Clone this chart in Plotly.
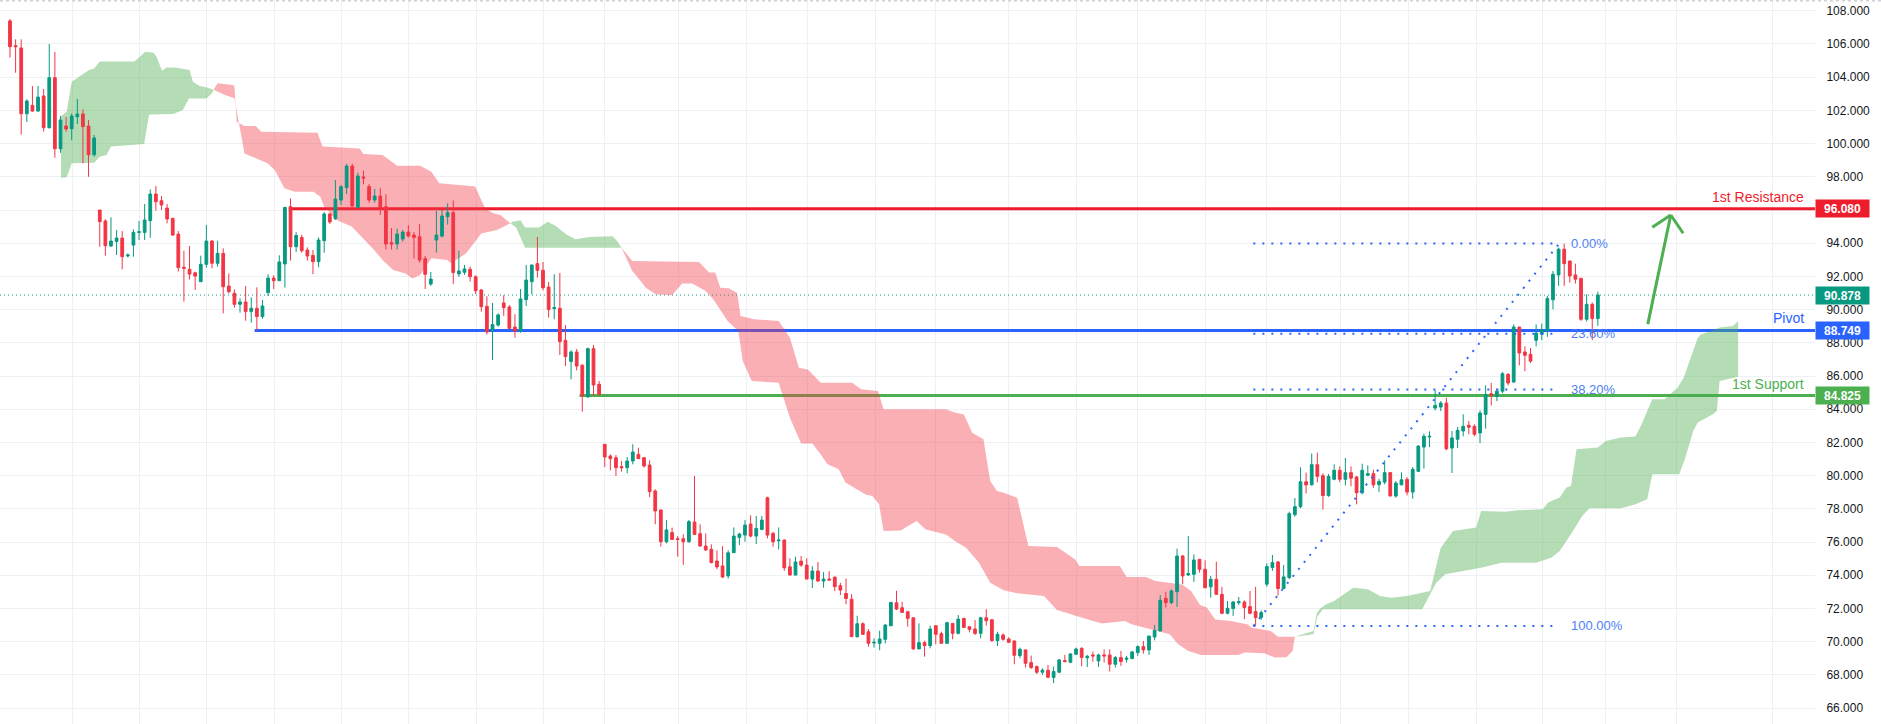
import plotly.graph_objects as go

# ---------------- candle data (index = bar number) ----------------
opens = [107.39,105.9,105.76,101.8,102.3,101.96,102.87,100.96,103.97,99.69,101.06,100.9,101.62,101.78,101.06,99.33,
96.0,95.34,93.83,94.1,94.31,93.23,93.89,94.65,94.65,95.36,96.96,96.56,96.12,95.5,94.55,92.55,92.43,92.22,91.68,92.73,
94.13,92.79,93.39,91.42,90.98,90.32,90.46,89.88,90.08,89.58,91.02,91.9,91.74,92.75,96.2,93.79,94.35,93.59,93.27,92.89,
94.15,95.76,95.48,96.6,97.35,98.65,96.16,97.99,97.41,96.6,96.84,96.2,94.03,93.95,94.25,94.67,94.49,94.39,93.07,91.54,
94.19,94.43,95.6,95.84,92.15,92.25,92.43,91.98,91.18,90.2,88.75,89.07,90.4,90.16,88.95,88.71,90.6,91.68,92.77,92.37,
91.36,90.06,90.08,88.15,86.87,87.45,86.65,84.74,87.65,85.5,81.89,81.18,81.08,80.54,80.48,80.88,81.28,81.08,80.64,79.08,
77.93,76.02,76.57,76.2,76.2,76.02,77.21,76.5,75.76,75.56,74.86,74.56,73.96,75.36,76.28,76.42,77.08,76.36,76.76,78.67,
76.52,76.08,76.12,74.51,74.01,74.85,74.61,73.77,74.25,73.65,73.77,73.89,73.37,72.9,72.56,70.3,71.08,70.6,69.92,69.9,
70.14,70.96,72.34,72.04,71.8,71.44,69.56,69.94,69.76,70.96,70.48,69.9,71.1,70.5,71.4,70.9,70.76,70.5,71.44,71.32,
70.06,70.4,70.16,70.04,69.16,69.5,68.74,68.5,68.16,68.28,67.84,68.16,68.86,68.76,69.24,69.6,69.03,69.2,68.84,69.2,
69.2,68.64,69.04,68.94,68.98,69.34,69.7,69.5,70.28,70.64,72.61,72.35,73.01,75.16,74.02,74.06,74.96,74.36,73.3,73.76,
72.85,71.71,71.99,72.35,72.39,72.11,71.81,71.45,73.46,74.46,74.8,73.2,73.86,77.65,78.13,79.63,79.45,80.66,80.0,78.8,
79.78,80.32,79.78,80.18,79.92,78.97,80.02,80.12,79.45,79.61,80.18,78.77,79.45,79.77,79.01,80.26,81.72,82.33,84.07,84.13,
84.37,81.66,82.19,82.69,83.03,82.97,82.57,83.69,84.93,84.77,85.09,86.1,85.64,88.95,87.45,87.31,88.15,88.52,88.72,90.59,
92.09,93.64,92.93,92.09,91.89,89.42,90.32,89.46]

highs = [107.5,106.28,106.28,102.67,103.47,103.47,103.29,106.0,105.52,101.66,101.6,101.82,102.69,102.06,101.42,100.52,
96.0,95.44,95.56,94.79,94.73,93.39,94.83,95.34,96.36,97.24,97.45,96.84,96.36,95.5,94.73,93.55,93.83,92.29,93.25,95.1,
94.19,94.15,93.69,92.18,91.22,90.68,91.42,90.74,91.34,90.58,92.13,92.07,93.27,96.16,96.7,94.67,94.51,93.75,93.59,94.35,
95.88,95.84,97.81,97.51,98.79,98.79,98.25,98.37,97.57,97.27,97.31,96.96,94.92,94.88,94.8,95.08,94.67,95.16,93.23,92.27,
95.94,96.0,96.4,96.58,93.55,92.69,92.59,92.07,91.24,90.8,90.4,89.78,90.86,90.28,89.72,91.24,92.69,92.69,94.37,92.87,
91.67,92.13,92.21,89.07,87.55,87.63,86.71,87.71,87.87,85.7,81.89,81.28,81.24,80.88,81.12,81.89,81.68,81.12,80.92,79.18,
77.97,77.33,76.87,76.36,76.46,77.33,79.98,77.07,76.52,75.86,75.5,75.76,75.5,76.88,76.56,77.32,77.61,77.57,77.57,78.73,
76.62,76.88,76.16,75.02,75.12,75.16,75.02,74.55,74.8,74.19,74.25,73.91,73.55,73.8,72.86,71.56,71.16,70.76,70.2,70.66,
71.06,72.4,73.06,72.4,71.86,71.44,71.1,70.06,70.96,71.0,70.6,71.2,71.1,71.6,71.44,70.9,71.3,71.5,71.96,71.36,
70.6,70.5,70.26,70.08,69.64,69.54,69.16,68.56,68.4,68.6,68.5,68.96,69.2,69.3,69.64,69.66,69.2,69.4,69.28,69.54,
69.54,69.14,69.44,69.14,69.44,69.78,70.04,70.34,71.0,72.81,73.01,73.15,75.6,75.22,76.37,75.26,74.96,74.9,73.96,74.82,
73.3,72.45,72.45,72.69,72.49,73.05,73.3,71.89,74.72,75.22,74.86,74.62,77.83,78.65,80.5,80.18,81.33,81.38,80.14,80.1,
80.68,80.56,81.06,80.56,79.98,80.72,80.62,80.36,79.81,80.92,80.22,79.67,80.2,79.91,80.52,81.82,82.53,82.67,85.14,84.49,
84.69,82.69,82.93,83.69,83.29,83.09,83.93,85.44,85.58,85.24,86.24,86.18,89.11,88.95,87.79,87.69,89.11,89.16,90.83,92.33,
93.74,93.98,92.93,92.77,91.89,90.93,90.43,91.09]

lows = [105.18,104.27,100.54,101.3,101.92,101.92,100.72,100.9,99.15,99.45,100.72,100.2,101.18,98.81,98.0,99.21,
93.79,93.25,93.79,93.29,92.43,93.15,93.19,94.19,94.19,94.33,95.96,96.0,95.2,94.45,92.29,90.48,91.82,91.18,91.68,92.53,
92.49,92.59,89.78,90.98,90.12,89.82,89.33,89.21,88.75,89.45,90.82,91.24,91.72,91.32,92.95,93.47,93.43,92.95,92.13,92.55,
93.43,95.16,95.4,96.3,96.96,96.2,96.1,97.55,96.44,96.44,95.7,93.63,93.63,93.63,94.09,94.35,93.07,92.83,91.24,91.44,
93.43,94.35,95.12,91.54,91.98,92.09,91.68,90.94,89.88,88.5,86.97,88.97,89.62,88.81,88.31,88.61,90.22,90.92,91.93,91.16,
89.52,89.42,87.27,86.6,85.8,86.34,83.85,84.7,84.8,84.8,80.52,80.32,79.98,80.24,80.14,80.68,81.02,80.48,78.71,77.07,
75.72,75.92,76.16,75.12,74.62,75.96,76.42,75.72,75.46,74.72,74.36,73.82,73.8,75.36,75.82,76.02,76.28,75.88,76.72,76.22,
75.72,75.56,74.27,74.01,74.01,74.51,73.77,73.23,73.59,73.25,73.71,73.05,72.81,72.25,70.3,70.24,70.4,69.7,69.64,69.48,
69.9,70.92,71.9,71.76,70.9,69.52,69.56,69.1,69.6,69.84,69.9,69.9,70.14,70.44,70.86,70.56,70.4,70.2,70.96,70.0,
69.74,70.06,69.96,68.64,69.0,68.44,68.36,68.04,68.0,67.8,67.5,68.1,68.76,68.7,69.2,68.52,68.47,68.8,68.48,68.74,
68.2,68.44,68.54,68.74,68.94,69.14,69.28,69.2,70.08,70.64,72.05,72.25,72.09,73.46,73.96,73.6,74.16,73.21,72.65,72.81,
71.65,71.65,71.55,72.21,71.35,71.65,70.95,71.31,73.3,74.26,72.79,73.16,73.76,77.53,78.04,78.92,79.4,79.6,77.95,78.72,
79.72,79.61,79.41,79.35,78.27,78.87,79.96,79.27,79.01,79.47,78.77,78.67,79.41,78.81,78.61,80.22,80.42,81.72,83.93,83.89,
81.52,80.16,81.66,82.37,82.49,82.37,81.96,82.83,84.23,84.49,84.97,85.44,85.58,86.64,86.3,86.78,87.79,88.16,88.36,90.02,
91.43,91.43,91.63,91.57,89.32,89.28,88.16,89.02]

closes = [105.84,105.84,101.8,102.57,101.96,102.8,100.96,103.97,99.69,101.42,100.88,101.66,101.78,101.02,99.33,100.34,
95.3,93.85,94.13,94.31,93.19,93.29,94.65,94.69,95.4,96.96,96.5,96.3,95.46,94.49,92.53,92.49,92.14,92.02,92.73,94.13,
92.79,93.39,91.38,91.08,90.32,90.46,89.88,90.08,89.58,90.22,91.9,91.74,92.87,96.16,93.79,94.47,93.55,93.23,92.89,94.19,
95.76,95.28,96.66,97.4,98.65,96.24,98.05,97.93,96.6,96.84,96.16,93.95,93.95,94.55,94.67,94.43,94.35,92.99,92.13,91.84,
94.49,95.64,95.84,92.23,92.33,92.45,91.98,91.14,90.18,88.65,89.1,89.68,90.12,88.87,88.71,90.64,91.78,92.69,92.37,91.32,
90.0,90.12,88.07,87.17,87.45,86.6,84.8,87.65,85.46,84.9,81.12,81.02,80.48,80.48,80.88,81.42,81.02,80.58,79.04,77.87,
76.02,76.73,76.16,76.16,76.02,77.23,76.46,75.76,75.52,74.76,74.5,73.9,75.35,76.36,76.48,77.02,76.36,76.82,77.32,76.42,
76.02,76.12,74.45,74.01,74.8,74.61,73.77,74.25,73.65,73.77,73.71,73.31,73.11,72.6,70.3,71.08,70.44,69.9,69.96,70.16,
71.0,72.36,71.96,71.76,71.4,69.56,69.94,69.76,70.76,70.44,69.9,71.14,70.5,71.36,70.86,70.74,70.5,71.44,71.26,70.06,
70.44,70.14,69.96,69.18,69.54,68.7,68.44,68.16,68.28,67.86,68.2,68.9,68.8,69.26,69.56,69.05,69.12,69.14,69.2,69.14,
68.64,69.04,68.8,69.0,69.38,69.7,69.5,70.34,70.68,72.49,72.35,73.05,75.16,73.96,74.1,74.92,74.36,73.25,73.76,72.85,
71.71,72.01,72.39,72.41,72.05,71.71,71.45,71.75,74.52,74.76,73.2,73.9,77.71,78.13,79.63,79.44,80.66,79.96,78.8,79.95,
80.32,79.78,80.18,79.85,78.97,80.32,80.12,79.45,79.65,80.18,78.77,79.55,79.75,79.01,80.38,81.78,82.37,82.37,84.23,84.37,
81.62,82.27,82.73,82.97,82.91,82.49,83.77,84.89,84.83,85.09,86.14,85.58,88.95,87.39,87.25,86.9,88.59,88.78,90.67,92.13,
93.64,92.77,92.03,91.83,89.42,90.32,89.46,90.878]

bars = list(range(len(opens)))

# ---------------- Ichimoku cloud, per coloured segment ----------------
k1_up_x = [9.1,10.1,11.0,12.8,14.1,15.0,16.0,22.2,24.1,25.6,26.1,27.1,27.9,29.7,32.0,32.6,33.8,35.0,36.3]
k1_up_y = [101.66,101.92,103.73,104.13,104.43,104.53,104.94,104.94,105.54,105.48,105.24,104.39,104.59,104.57,104.43,103.73,103.47,103.39,103.25]
k1_lo_x = [9.1,10.1,11.0,15.0,16.0,17.2,18.0,23.9,24.8,29.1,30.8,31.9,35.0,36.0,36.3]
k1_lo_y = [97.95,97.97,98.81,98.85,99.21,99.31,99.82,99.98,101.76,101.78,102.02,102.71,102.71,103.03,103.25]

k2_up_x = [36.3,37.0,39.7,40.0,40.4,41.8,43.8,44.8,54.8,55.7,62.3,63.0,66.4,69.0,73.1,75.1,76.5,82.9,84.0,84.7,86.1,87.4,89.2]
k2_up_y = [103.25,103.63,103.53,103.47,101.32,101.06,101.06,100.72,100.66,99.82,99.71,99.37,99.31,98.67,98.67,98.31,97.61,97.41,96.6,96.1,95.8,95.7,95.2]
k2_lo_x = [36.3,38.3,40.0,40.4,41.8,45.9,47.2,48.9,50.7,54.1,55.3,56.0,58.2,60.9,63.2,64.9,66.4,68.3,70.5,71.7,73.1,75.1,77.9,78.6,81.3,82.0,84.0,86.8,89.2]
k2_lo_y = [103.25,102.93,102.73,101.9,99.41,98.81,98.41,97.31,97.1,97.1,96.8,96.2,95.4,95.0,94.19,93.59,92.99,92.39,92.18,91.88,92.08,93.09,92.99,92.79,93.39,93.69,94.59,94.8,95.2]

k3_up_x = [89.2,89.6,91.0,91.8,94.3,95.8,97.3,99.1,100.8,103.2,107.4,108.2,109.0]
k3_up_y = [95.2,95.3,95.38,94.94,94.94,95.3,95.04,94.54,94.24,94.38,94.42,94.14,93.73]
k3_lo_x = [89.2,90.2,91.8,109.0]
k3_lo_y = [95.2,94.94,93.73,93.73]

k4_up_x = [109.0,110.9,122.8,124.6,125.7,126.6,128.1,129.6,130.2,132.6,137.0,139.0,140.6,142.2,144.5,150.1,151.7,154.7,
           155.7,166.8,168.4,170.0,171.5,173.5,174.7,175.9,177.1,179.5,181.5,186.6,189.8,190.6,197.8,199.0,202.5,204.1,
           208.9,210.5,212.1,213.3,214.8,217.6,220.6,221.2,224.7,226.0,229.0]
k4_up_y = [93.73,92.93,92.87,92.23,92.23,91.32,91.28,91.0,89.62,89.42,89.32,88.31,86.5,86.4,85.6,85.6,85.2,85.1,
           84.0,84.0,83.8,83.69,82.59,82.19,79.68,79.07,78.97,78.67,75.76,75.7,74.96,74.56,74.56,73.89,73.89,73.65,
           73.45,73.05,72.21,72.05,71.34,71.24,71.04,70.85,70.64,70.3,70.3]
k4_lo_x = [109.0,110.9,112.4,113.3,115.1,118.0,119.8,121.6,124.0,125.1,126.0,127.9,129.8,130.6,132.2,137.0,139.0,141.0,
           143.0,144.5,145.7,147.7,148.9,152.5,153.7,154.9,155.7,158.8,159.6,161.6,163.2,166.8,168.4,170.4,172.7,174.7,
           177.1,179.5,184.3,186.6,188.6,192.0,194.6,198.7,199.9,204.6,206.7,208.2,210.0,212.3,218.9,220.1,223.6,225.4,
           227.5,228.6,229.0]
k4_lo_y = [93.73,92.33,91.73,91.32,90.92,90.86,91.57,91.57,91.12,90.72,90.3,89.32,88.71,86.9,85.7,85.6,83.49,81.93,
           81.93,81.28,80.68,80.38,79.58,78.87,78.77,78.27,76.66,76.7,76.87,77.27,76.76,76.46,76.06,75.66,74.76,73.55,
           73.09,72.91,72.75,71.9,71.7,71.35,71.1,71.25,71.05,70.64,70.44,69.84,69.44,69.2,69.2,69.34,69.3,69.04,
           69.06,69.44,70.3]

k5_up_x = [229.0,230.8,232.3,232.9,233.5,234.6,236.0,239.4,242.0,244.2,246.1,249.0,251.7,253.1,255.0,257.2,261.3,262.2,
           266.6,268.7,273.2,274.1,276.2,277.4,278.2,279.2,283.0,284.4,287.1,289.7,290.8,292.7,294.9,297.2,298.3,300.8,
           301.3,304.7,307.1,308.0]
k5_up_y = [70.3,70.5,70.64,71.7,72.0,72.25,72.45,73.25,73.15,72.75,72.65,72.75,72.95,73.05,75.66,76.67,76.87,77.87,
           77.83,77.91,77.97,78.38,78.68,79.28,79.38,81.59,81.69,82.09,82.29,82.35,83.09,84.6,84.6,85.3,85.9,88.3,
           88.48,88.92,89.02,89.32]
k5_lo_x = [229.0,232.3,233.0,234.0,251.7,253.1,254.2,255.8,262.4,265.8,272.0,274.7,276.2,278.2,280.2,281.5,287.1,289.7,
           291.8,292.7,297.5,298.6,300.0,300.8,303.5,304.2,304.7,308.0]
k5_lo_y = [70.3,70.44,71.5,71.95,71.95,72.85,73.55,74.06,74.46,74.76,74.76,75.06,75.46,76.47,77.57,78.03,78.03,78.27,
           78.58,80.08,80.08,81.09,82.69,83.2,83.7,83.9,85.7,85.95]

# ---------------- levels & drawings ----------------
resistance = 96.080
pivot = 88.749
support = 84.825
last_price = 90.878
resistance_start, pivot_start, support_start = 49.7, 43.6, 101.5

fib_x0, fib_x1 = 221.6, 276.1
fib_low, fib_high = 70.95, 93.98
fib_ratios = [0.0, 0.236, 0.382, 1.0]
fib_texts = ["0.00%", "23.60%", "38.20%", "100.00%"]

arrow_start = (291.9, 89.13)
arrow_tip = (296.0, 95.70)
arrow_left = (292.7, 94.96)
arrow_right = (298.2, 94.60)

grid_idx = [11.2, 23.1, 35.0, 47.1, 59.1, 71.1, 83.1, 95.1, 106.0, 119.2, 131.2, 142.2, 154.2, 165.0, 178.0,
            190.0, 201.0, 213.0, 224.0, 237.2, 249.2, 261.3, 273.2, 284.3, 297.1, 314.2]
price_ticks = list(range(66, 110, 2))

X_RANGE = [-1.78, 321.7]
Y_RANGE = [65.04, 108.65]

RED = "#f23645"
GREEN = "#089981"
LVL_RED = "#ee1d2d"
LVL_BLUE = "#2962ff"
LVL_GREEN = "#4caf50"
FIB_BLUE = "#2f66f5"
FONT = "Liberation Sans, Arial, sans-serif"

fig = go.Figure()

# horizontal levels (under the cloud)
for lvl, start, col in [(resistance, resistance_start, LVL_RED), (pivot, pivot_start, LVL_BLUE),
                        (support, support_start, LVL_GREEN)]:
    fig.add_trace(go.Scatter(x=[start, X_RANGE[1]], y=[lvl, lvl], mode="lines",
                             line=dict(color=col, width=3), hoverinfo="skip"))

fig.add_trace(go.Scatter(x=[X_RANGE[0], X_RANGE[1]], y=[last_price, last_price], mode="lines",
                         line=dict(color=GREEN, width=1, dash="1px,3px"), hoverinfo="skip"))

# cloud
clouds = [(k1_up_x, k1_up_y, k1_lo_x, k1_lo_y, True), (k2_up_x, k2_up_y, k2_lo_x, k2_lo_y, False),
          (k3_up_x, k3_up_y, k3_lo_x, k3_lo_y, True), (k4_up_x, k4_up_y, k4_lo_x, k4_lo_y, False),
          (k5_up_x, k5_up_y, k5_lo_x, k5_lo_y, True)]
for ux, uy, lx, ly, bull in clouds:
    fig.add_trace(go.Scatter(x=ux + lx[::-1], y=uy + ly[::-1], mode="lines", fill="toself",
                             fillcolor="rgba(76,175,80,0.42)" if bull else "rgba(242,54,69,0.40)",
                             line=dict(width=0, color="rgba(0,0,0,0)"), hoverinfo="skip"))

# candles on overlay axes (drawn above the cloud)
fig.add_trace(go.Candlestick(x=bars, open=opens, high=highs, low=lows, close=closes,
                             xaxis="x2", yaxis="y2",
                             increasing=dict(line=dict(color=GREEN, width=1), fillcolor=GREEN),
                             decreasing=dict(line=dict(color=RED, width=1), fillcolor=RED),
                             whiskerwidth=0, hoverinfo="skip"))

# fibonacci
fx, fy = [], []
for r in fib_ratios:
    p = fib_high - r * (fib_high - fib_low)
    fx += [fib_x0, fib_x1, None]
    fy += [p, p, None]
fig.add_trace(go.Scatter(x=fx, y=fy, mode="lines", xaxis="x2", yaxis="y2",
                         line=dict(color=FIB_BLUE, width=2, dash="2px,7px"), hoverinfo="skip"))
fig.add_trace(go.Scatter(x=[fib_x0, fib_x1], y=[fib_low, fib_high], mode="lines", xaxis="x2", yaxis="y2",
                         line=dict(color=FIB_BLUE, width=2, dash="2px,7px"), hoverinfo="skip"))

annotations = []
for r, t in zip(fib_ratios, fib_texts):
    p = fib_high - r * (fib_high - fib_low)
    annotations.append(dict(x=fib_x1, y=p, xref="x", yref="y", text=t, showarrow=False, xanchor="left",
                            xshift=10, font=dict(family=FONT, size=13, color="#4f80f5")))

for txt, lvl, col in [("1st Resistance", resistance, LVL_RED), ("Pivot", pivot, LVL_BLUE),
                      ("1st Support", support, LVL_GREEN)]:
    annotations.append(dict(x=1, y=lvl, xref="paper", yref="y", text=txt, showarrow=False,
                            xanchor="right", xshift=-9, yshift=12, font=dict(family=FONT, size=14, color=col)))

for lvl, col in [(resistance, LVL_RED), (last_price, GREEN), (pivot, LVL_BLUE), (support, LVL_GREEN)]:
    annotations.append(dict(x=1, y=lvl, xref="paper", yref="y", text=f"<b>{lvl:.3f}</b>", showarrow=False,
                            xanchor="left", yanchor="middle", bgcolor=col, width=53, height=17,
                            borderpad=0, font=dict(family=FONT, size=12, color="white")))

shapes = [
    dict(type="line", xref="x", yref="y", x0=arrow_start[0], y0=arrow_start[1], x1=arrow_tip[0], y1=arrow_tip[1],
         line=dict(color=LVL_GREEN, width=3)),
    dict(type="line", xref="x", yref="y", x0=arrow_left[0], y0=arrow_left[1], x1=arrow_tip[0], y1=arrow_tip[1],
         line=dict(color=LVL_GREEN, width=3)),
    dict(type="line", xref="x", yref="y", x0=arrow_right[0], y0=arrow_right[1], x1=arrow_tip[0], y1=arrow_tip[1],
         line=dict(color=LVL_GREEN, width=3)),
    dict(type="line", xref="paper", yref="paper", x0=0, x1=1.04, y0=1, y1=1,
         line=dict(color="#cfd2d8", width=3, dash="dot")),
]

fig.update_layout(
    width=1881, height=724, autosize=False,
    margin=dict(l=0, r=66, t=0, b=0),
    paper_bgcolor="white", plot_bgcolor="white",
    showlegend=False, hovermode=False,
    font=dict(family=FONT, size=12, color="#131722"),
    xaxis=dict(range=X_RANGE, tickvals=grid_idx, showticklabels=False, ticks="", showgrid=True,
               gridcolor="#eff0f3", gridwidth=1, zeroline=False, showline=False, rangeslider=dict(visible=False)),
    xaxis2=dict(range=X_RANGE, overlaying="x", visible=False, rangeslider=dict(visible=False)),
    yaxis=dict(range=Y_RANGE, side="right", tickvals=price_ticks, tickformat=".3f", showgrid=True,
               gridcolor="#eff0f3", gridwidth=1, zeroline=False, showline=False, ticks="outside",
               ticklen=8, tickcolor="rgba(0,0,0,0)", tickfont=dict(family=FONT, size=12, color="#131722")),
    yaxis2=dict(range=Y_RANGE, overlaying="y", side="right", visible=False),
    annotations=annotations,
    shapes=shapes,
)

fig.write_html("out.html")
